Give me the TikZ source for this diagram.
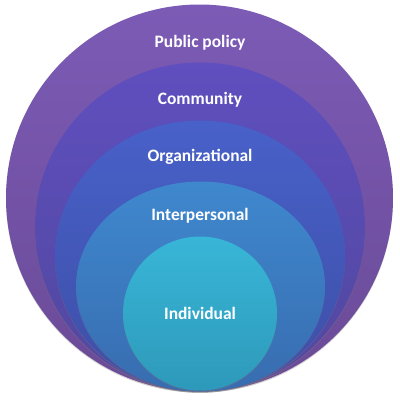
\documentclass[tikz,border=0pt]{standalone}
\usepackage{fontspec}
\setsansfont{Carlito}
\usetikzlibrary{shadows}
\definecolor{pTop}{HTML}{7C5BB6}
\definecolor{pBot}{HTML}{6A4A96}
\definecolor{cTop}{HTML}{5F4FBF}
\definecolor{cBot}{HTML}{51479E}
\definecolor{oTop}{HTML}{4861C9}
\definecolor{oBot}{HTML}{3D4EA6}
\definecolor{iTop}{HTML}{3F88CE}
\definecolor{iBot}{HTML}{386CB0}
\definecolor{dTop}{HTML}{38B6D7}
\definecolor{dBot}{HTML}{2E99BA}
\tikzset{
  ring/.style={drop shadow={opacity=0.35,shadow xshift=0pt,shadow yshift=-1.2pt}},
  lbl/.style={text=white,font=\sffamily\bfseries\fontsize{17.5}{20}\selectfont,inner sep=0pt}
}
\begin{document}
\begin{tikzpicture}[x=1bp,y=-1bp]
\useasboundingbox[fill=white] (0,0) rectangle (400,400);
\path[ring,top color=pTop,bottom color=pBot] (199.5,198) ellipse [x radius=193.5bp,y radius=193.5bp];
\path[ring,top color=cTop,bottom color=cBot] (200,227) ellipse [x radius=165bp,y radius=164.5bp];
\path[ring,top color=oTop,bottom color=oBot] (200,256) ellipse [x radius=145bp,y radius=135.5bp];
\path[ring,top color=iTop,bottom color=iBot] (200.5,286.5) ellipse [x radius=124.5bp,y radius=105bp];
\path[ring,top color=dTop,bottom color=dBot] (200,313.5) ellipse [x radius=77bp,y radius=77bp];
\node[lbl] (pp) at (200,43) {Public policy};
\node[lbl] (cm) at (200,100) {Community};
\node[lbl] (og) at (200,157) {Organizational};
\node[lbl] (ip) at (200,216) {Interpersonal};
\node[lbl] (iv) at (200,313) {Individual};
\end{tikzpicture}
\end{document}
